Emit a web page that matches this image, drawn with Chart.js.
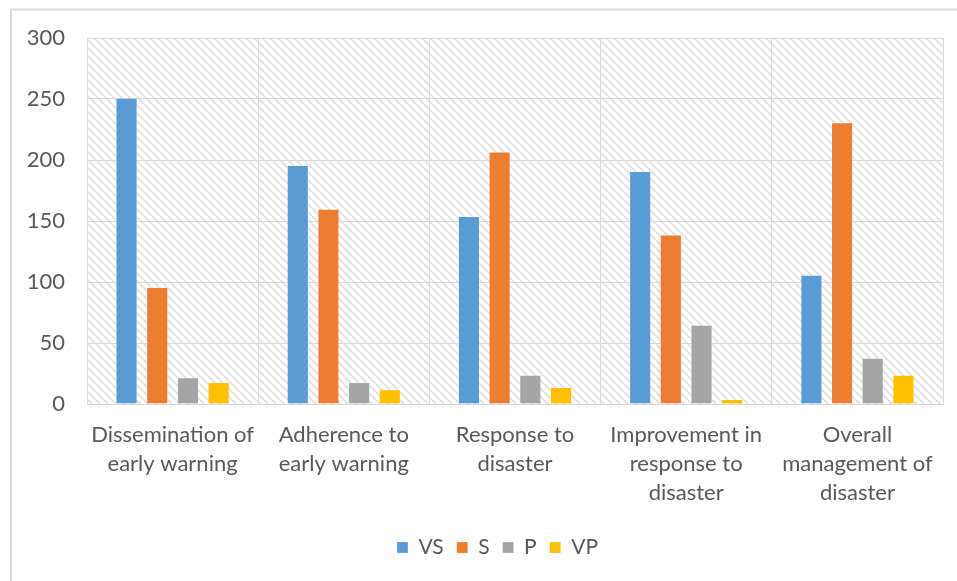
<!DOCTYPE html>
<html>
<head>
<meta charset="utf-8">
<script src="https://cdn.jsdelivr.net/npm/chart.js@4"></script>
<style>
  html, body { margin: 0; padding: 0; background: #fff; }
  canvas { display: block; }
</style>
</head>
<body>
<canvas id="chart" width="957" height="581"></canvas>
<script>
const categories = [
  ['Dissemination of', 'early warning'],
  ['Adherence to', 'early warning'],
  ['Response to', 'disaster'],
  ['Improvement in', 'response to', 'disaster'],
  ['Overall', 'management of', 'disaster']
];
const seriesNames = ['VS', 'S', 'P', 'VP'];
const vsValues = [251, 196, 154, 191, 106];
const sValues = [96, 160, 207, 139, 231];
const pValues = [22, 18, 24, 65, 38];
const vpValues = [18, 12, 14, 4, 24];
const seriesColors = ['#5B9BD5', '#ED7D31', '#A5A5A5', '#FFC000'];

// hatched plot background, like the Excel pattern fill
const makeHatch = () => {
  const c = document.createElement('canvas');
  c.width = 8;
  c.height = 8;
  const g = c.getContext('2d');
  g.strokeStyle = '#e4e4e4';
  g.lineWidth = 2.2;
  [-8, 0, 8].forEach(off => {
    g.beginPath();
    g.moveTo(off, 0);
    g.lineTo(off + 8, 8);
    g.stroke();
  });
  return g.createPattern(c, 'repeat');
};

const backdrop = {
  id: 'backdrop',
  afterLayout(chart) {
    // the legend in the original sits a bit right of the canvas centre
    chart.legend.left += 26;
    chart.legend.right += 26;
  },
  beforeDraw(chart) {
    const { ctx, chartArea: a, width, height } = chart;
    ctx.save();
    ctx.fillStyle = '#fff';
    ctx.fillRect(0, 0, width, height);
    ctx.fillStyle = makeHatch();
    ctx.fillRect(a.left, a.top, a.right - a.left, a.bottom - a.top);
    // outer chart frame (left and top edges visible)
    ctx.strokeStyle = '#d9d9d9';
    ctx.lineWidth = 2;
    ctx.beginPath();
    ctx.moveTo(11, height);
    ctx.lineTo(11, 9.5);
    ctx.lineTo(width, 9.5);
    ctx.stroke();
    ctx.restore();
  }
};

const values = [vsValues, sValues, pValues, vpValues];

const ctx = document.getElementById('chart').getContext('2d');
new Chart(ctx, {
  type: 'bar',
  data: {
    labels: categories,
    datasets: seriesNames.map((name, i) => ({
      label: name,
      data: values[i],
      backgroundColor: seriesColors[i],
      borderColor: 'rgba(255,255,255,0.2)',
      borderWidth: 1,
      categoryPercentage: 0.717,
      barPercentage: 0.72
    }))
  },
  options: {
    responsive: false,
    animation: false,
    layout: { padding: { top: 38, right: 14, bottom: 13, left: 0 } },
    plugins: {
      tooltip: { enabled: false },
      legend: {
        position: 'bottom',
        labels: {
          boxWidth: 11,
          boxHeight: 11,
          padding: 13,
          color: '#595959',
          font: { family: 'Lato', size: 21 }
        }
      }
    },
    scales: {
      x: {
        grid: { color: '#d9d9d9', offset: true, drawTicks: false },
        border: { color: '#d9d9d9' },
        ticks: {
          color: '#595959',
          padding: 17,
          maxRotation: 0,
          autoSkip: false,
          font: { family: 'Lato', size: 22, lineHeight: 1.3 }
        },
        afterFit(scale) { scale.height = 120; }
      },
      y: {
        min: 0,
        max: 300,
        grid: { color: '#d9d9d9', drawTicks: false },
        border: { color: '#d9d9d9' },
        ticks: {
          stepSize: 50,
          color: '#595959',
          padding: 22,
          font: { family: 'Lato', size: 22 }
        },
        afterFit(scale) { scale.width = 87; }
      }
    }
  },
  plugins: [backdrop]
});
</script>
</body>
</html>
